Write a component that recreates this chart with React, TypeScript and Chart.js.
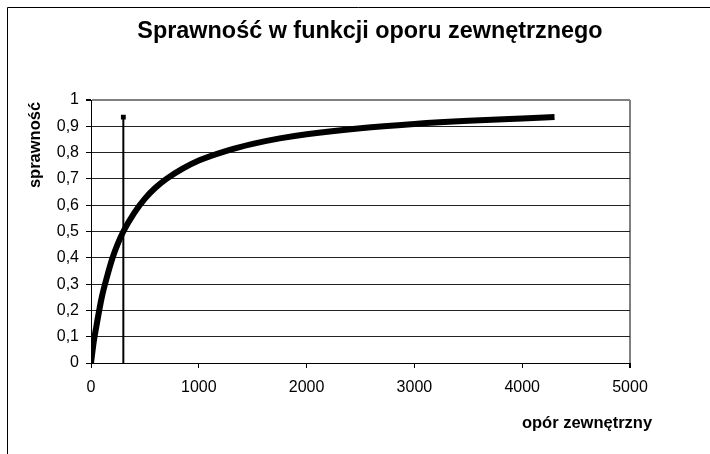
import React, { useEffect, useRef } from "react";
import { Chart, registerables } from "chart.js";

Chart.register(...registerables);

const chartTitle = "Sprawność w funkcji oporu zewnętrznego";
const yTitle = "sprawność";
const xTitle = "opór zewnętrzny";

const resistance = [0, 25, 50, 100, 150, 200, 250, 300, 400, 500, 600, 700, 850, 1000, 1250, 1500, 1750, 2000, 2500, 3000, 3500, 4000, 4300];
const efficiency = [0, 0.08, 0.14, 0.25, 0.33, 0.4, 0.455, 0.5, 0.57, 0.625, 0.667, 0.7, 0.739, 0.77, 0.806, 0.833, 0.854, 0.87, 0.893, 0.909, 0.921, 0.93, 0.935];

const markerX = [300, 300];
const markerY = [0, 0.935];

const xMin = 0;
const xMax = 5000;
const xStep = 1000;
const yMin = 0;
const yMax = 1;
const yStep = 0.1;

const FONT = '"Liberation Sans", Arial, sans-serif';

export default function App() {
  const ref = useRef<HTMLCanvasElement | null>(null);

  useEffect(() => {
    if (!ref.current) return;
    const textPlugin = {
      id: "texts",
      afterDraw(chart: any) {
        const ctx = chart.ctx;
        const a = chart.chartArea;
        ctx.save();
        // outer frame
        ctx.strokeStyle = "#000";
        ctx.lineWidth = 1;
        ctx.beginPath();
        ctx.moveTo(7.5, chart.height);
        ctx.lineTo(7.5, 7.5);
        ctx.lineTo(chart.width, 7.5);
        ctx.stroke();
        ctx.fillStyle = "#000";
        ctx.textAlign = "center";
        ctx.textBaseline = "middle";
        ctx.font = `bold 23.4px ${FONT}`;
        ctx.fillText(chartTitle, 370, 32);
        ctx.font = `bold 16.5px ${FONT}`;
        ctx.fillText(xTitle, a.right - 43, 423);
        ctx.translate(35, a.top + 45);
        ctx.rotate(-Math.PI / 2);
        ctx.fillText(yTitle, 0, 0);
        ctx.restore();
      },
    };

    const chart = new Chart(ref.current, {
      type: "scatter",
      data: {
        datasets: [
          {
            data: resistance.map((x, i) => ({ x, y: efficiency[i] })),
            showLine: true,
            borderColor: "#000",
            borderWidth: 6,
            pointRadius: 0,
            cubicInterpolationMode: "monotone",
            borderCapStyle: "butt",
          },
          {
            data: markerX.map((x, i) => ({ x, y: markerY[i] })),
            showLine: true,
            borderColor: "#000",
            backgroundColor: "#000",
            borderWidth: 2,
            pointRadius: [0, 2],
            pointStyle: "rect",
          },
        ],
      },
      options: {
        animation: false,
        responsive: false,
        layout: { padding: { left: 0, top: 100, right: 80, bottom: 51 } },
        plugins: { legend: { display: false }, tooltip: { enabled: false } },
        scales: {
          x: {
            type: "linear",
            min: xMin,
            max: xMax,
            afterFit: (s: any) => {
              s.height = 40;
            },
            ticks: {
              stepSize: xStep,
              color: "#000",
              font: { family: FONT, size: 16 },
              padding: 10,
              maxRotation: 0,
              callback: (v: any) => String(v),
            },
            grid: {
              color: (c: any) => (c.tick && c.tick.value === xMax ? "#808080" : "rgba(0,0,0,0)"),
              lineWidth: (c: any) => (c.tick && c.tick.value === xMax ? 2 : 1),
              tickColor: "#000",
              tickLength: 5,
            },
            border: { display: true, color: "#000", width: 1 },
          },
          y: {
            min: yMin,
            max: yMax,
            afterFit: (s: any) => {
              s.width = 91;
            },
            ticks: {
              stepSize: yStep,
              color: "#000",
              font: { family: FONT, size: 16 },
              padding: 7,
              callback: (v: any) => String(Math.round(Number(v) * 10) / 10).replace(".", ","),
            },
            grid: {
              color: (c: any) => (c.tick && c.tick.value === yMax ? "#808080" : "#222"),
              lineWidth: (c: any) => (c.tick && c.tick.value === yMax ? 2 : 1),
              tickColor: "#000",
              tickLength: 5,
            },
            border: { display: true, color: "#000", width: 1 },
          },
        },
      },
      plugins: [textPlugin],
    } as any);
    return () => chart.destroy();
  }, []);

  return (
    <div style={{ position: "absolute", left: 0, top: 0, width: 710, height: 454, background: "#fff" }}>
      <canvas ref={ref} width={710} height={454} style={{ display: "block" }} />
    </div>
  );
}
